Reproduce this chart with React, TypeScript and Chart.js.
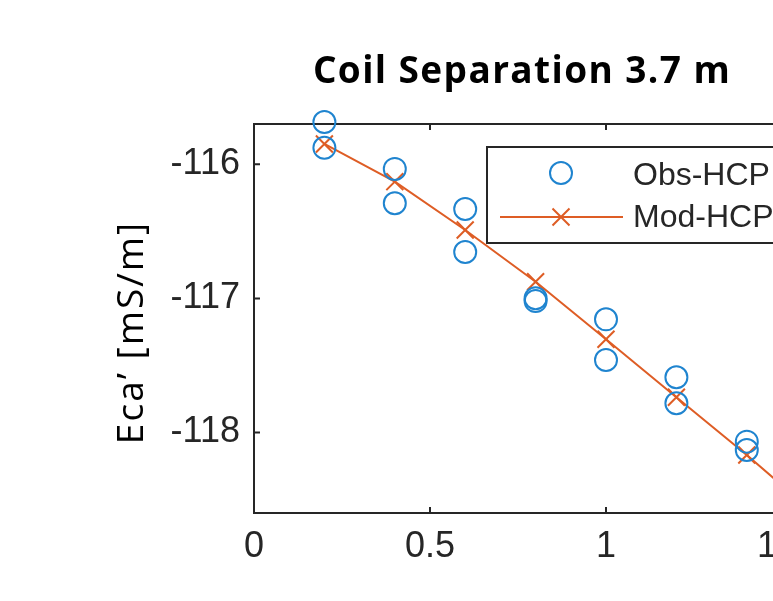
import React, { useEffect, useRef } from "react";
import { Chart, registerables } from "chart.js";

Chart.register(...registerables);

const chartTitle = "Coil Separation 3.7 m";
const yAxisLabel = "Eca\u2019 [mS/m]";
const obsLabel = "Obs-HCP";
const modLabel = "Mod-HCP";

const obsX = [0.2, 0.2, 0.4, 0.4, 0.6, 0.6, 0.8, 0.8, 1.0, 1.0, 1.2, 1.2, 1.4, 1.4];
const obsY = [
  -115.685, -115.877, -116.035, -116.291, -116.334, -116.654, -116.999, -117.02,
  -117.156, -117.459, -117.588, -117.782, -118.068, -118.13,
];
const modX = [0.2, 0.4, 0.6, 0.8, 1.0, 1.2, 1.4, 1.6];
const modY = [-115.849, -116.13, -116.49, -116.876, -117.305, -117.737, -118.168, -118.62];

const xTicks = [0, 0.5, 1, 1.5];
const yTicks = [-118, -117, -116];
const xRange = [0, 1.5];
const yRange = [-118.6, -115.7];

const AXIS_COLOR = "#262626";
const OBS_COLOR = "#1f84cf";
const MOD_COLOR = "#de5d25";

const axisBoxPlugin = {
  id: "axisBox",
  beforeDatasetsDraw(chart: any) {
    const { ctx, chartArea, scales } = chart;
    const { left, right, top, bottom } = chartArea;
    const tl = 6;
    ctx.save();
    ctx.strokeStyle = AXIS_COLOR;
    ctx.lineWidth = 2;
    ctx.beginPath();
    ctx.moveTo(left, top);
    ctx.lineTo(right, top);
    ctx.lineTo(right, bottom);
    ctx.lineTo(left, bottom);
    ctx.closePath();
    scales.x.ticks.forEach((t: any) => {
      const p = scales.x.getPixelForValue(t.value);
      ctx.moveTo(p, bottom);
      ctx.lineTo(p, bottom - tl);
      ctx.moveTo(p, top);
      ctx.lineTo(p, top + tl);
    });
    scales.y.ticks.forEach((t: any) => {
      const p = scales.y.getPixelForValue(t.value);
      ctx.moveTo(left, p);
      ctx.lineTo(left + tl, p);
      ctx.moveTo(right, p);
      ctx.lineTo(right - tl, p);
    });
    ctx.stroke();
    ctx.restore();
  },
};

const textPlugin = {
  id: "figureText",
  afterDraw(chart: any) {
    const { ctx, chartArea } = chart;
    const cx = (chartArea.left + chartArea.right) / 2 + 4;
    ctx.save();
    // title
    ctx.fillStyle = "#000000";
    ctx.font = 'bold 37px "Open Sans", sans-serif';
    (ctx as any).letterSpacing = "1.4px";
    ctx.textAlign = "center";
    ctx.textBaseline = "alphabetic";
    ctx.fillText(chartTitle, cx, 83);
    // y label
    ctx.font = '37px "Open Sans", sans-serif';
    (ctx as any).letterSpacing = "2px";
    const cy = (chartArea.top + chartArea.bottom) / 2 + 14;
    ctx.translate(143, cy);
    ctx.rotate(-Math.PI / 2);
    ctx.fillText(yAxisLabel, 0, 0);
    ctx.restore();
  },
};

const legendPlugin = {
  id: "insideLegend",
  afterDraw(chart: any) {
    const { ctx, chartArea } = chart;
    const ds = chart.data.datasets;
    const bx = chartArea.left + 233;
    const by = chartArea.top + 23;
    const bw = 330;
    const bh = 96;
    ctx.save();
    ctx.fillStyle = "#ffffff";
    ctx.fillRect(bx, by, bw, bh);
    ctx.strokeStyle = AXIS_COLOR;
    ctx.lineWidth = 2;
    ctx.strokeRect(bx, by, bw, bh);

    const sx = bx + 74;
    const r1 = by + 26;
    const r2 = by + 70;
    ctx.strokeStyle = ds[0].borderColor;
    ctx.lineWidth = 2;
    ctx.beginPath();
    ctx.arc(sx, r1, 11, 0, Math.PI * 2);
    ctx.stroke();

    ctx.strokeStyle = ds[1].borderColor;
    ctx.beginPath();
    ctx.moveTo(bx + 13, r2);
    ctx.lineTo(bx + 136, r2);
    const c = 8.5;
    ctx.moveTo(sx - c, r2 - c);
    ctx.lineTo(sx + c, r2 + c);
    ctx.moveTo(sx - c, r2 + c);
    ctx.lineTo(sx + c, r2 - c);
    ctx.stroke();

    ctx.fillStyle = AXIS_COLOR;
    ctx.font = '32px "Liberation Sans", Arial, sans-serif';
    ctx.textAlign = "left";
    ctx.textBaseline = "middle";
    ctx.fillText(ds[0].label, bx + 146, by + 29);
    ctx.fillText(ds[1].label, bx + 146, by + 71);
    ctx.restore();
  },
};

export default function App() {
  const canvasRef = useRef<HTMLCanvasElement | null>(null);

  useEffect(() => {
    const canvas = canvasRef.current;
    if (!canvas) return;
    const chart = new Chart(canvas, {
      type: "scatter",
      data: {
        datasets: [
          {
            label: obsLabel,
            data: obsX.map((x, i) => ({ x, y: obsY[i] })),
            showLine: false,
            pointStyle: "circle",
            pointRadius: 11,
            pointBorderWidth: 2,
            borderColor: OBS_COLOR,
            backgroundColor: "rgba(0,0,0,0)",
            clip: false as any,
          },
          {
            label: modLabel,
            data: modX.map((x, i) => ({ x, y: modY[i] })),
            showLine: true,
            borderColor: MOD_COLOR,
            backgroundColor: MOD_COLOR,
            borderWidth: 2,
            pointStyle: "crossRot",
            pointRadius: 12,
            pointBorderWidth: 2,
            pointBorderColor: MOD_COLOR,
          },
        ],
      },
      options: {
        responsive: false,
        animation: false,
        layout: { padding: { left: 0, right: 78, top: 124, bottom: 0 } },
        plugins: {
          legend: { display: false },
          tooltip: { enabled: false },
          title: { display: false },
        },
        scales: {
          x: {
            type: "linear",
            min: xRange[0],
            max: xRange[1],
            grid: { display: false, drawTicks: false },
            border: { display: false },
            afterBuildTicks: (scale: any) => {
              scale.ticks = xTicks.map((v) => ({ value: v }));
            },
            afterFit: (scale: any) => {
              scale.height = 88;
            },
            ticks: {
              color: AXIS_COLOR,
              padding: 12,
              font: { family: "Liberation Sans", size: 36 },
              callback: (v: any) => String(v),
            },
          },
          y: {
            type: "linear",
            min: yRange[0],
            max: yRange[1],
            grid: { display: false, drawTicks: false },
            border: { display: false },
            afterBuildTicks: (scale: any) => {
              scale.ticks = yTicks.map((v) => ({ value: v }));
            },
            afterFit: (scale: any) => {
              scale.width = 254;
            },
            ticks: {
              color: AXIS_COLOR,
              padding: 14,
              font: { family: "Liberation Sans", size: 36 },
              callback: (v: any) => String(v),
            },
          },
        },
      },
      plugins: [axisBoxPlugin, legendPlugin, textPlugin],
    });
    return () => chart.destroy();
  }, []);

  return (
    <div
      style={{
        position: "fixed",
        left: 0,
        top: 0,
        width: 773,
        height: 601,
        overflow: "hidden",
        background: "#ffffff",
      }}
    >
      <canvas ref={canvasRef} width={860} height={601} style={{ width: 860, height: 601, display: "block" }} />
    </div>
  );
}
